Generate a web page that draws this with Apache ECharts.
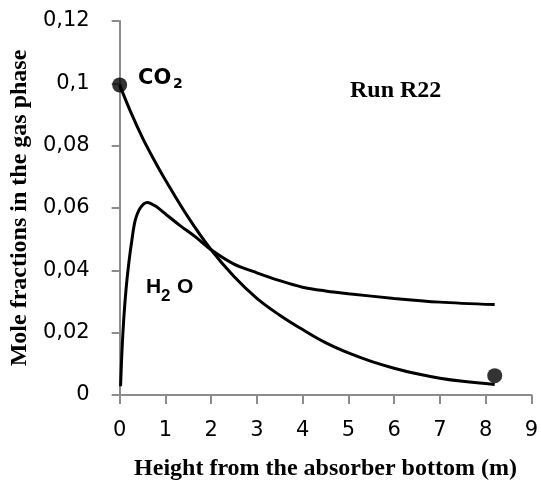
<!DOCTYPE html>
<html>
<head>
<meta charset="utf-8">
<script src="https://cdn.jsdelivr.net/npm/echarts@6/dist/echarts.min.js"></script>
<style>
  html, body { margin: 0; padding: 0; background: #fff; }
  #chart { width: 541px; height: 486px; }
</style>
</head>
<body>
<div id="chart"></div>
<script>
// heights (m) and mole fractions
var co2X = [0, 0.25, 0.5, 0.75, 1.0, 1.5, 2.0, 2.5, 3.0, 3.5, 4.0, 4.5, 5.0, 5.5, 6.0, 6.5, 7.0, 7.5, 8.2];
var co2Y = [0.0995, 0.0905, 0.0825, 0.0755, 0.0690, 0.0570, 0.0466, 0.0380, 0.0310, 0.0256, 0.0210, 0.0168, 0.0135, 0.0108, 0.0086, 0.0068, 0.0054, 0.0044, 0.0034];

var h2oX = [0.02, 0.05, 0.09, 0.14, 0.2, 0.27, 0.34, 0.45, 0.6, 0.8, 1.0, 1.3, 1.65, 2.0, 2.5, 3.0, 3.5, 4.0, 4.5, 5.0, 6.0, 7.0, 8.2];
var h2oY = [0.0028, 0.014, 0.0245, 0.034, 0.0423, 0.050, 0.056, 0.060, 0.0618, 0.0605, 0.0581, 0.0546, 0.0508, 0.0466, 0.0420, 0.0392, 0.0367, 0.0346, 0.0334, 0.0325, 0.0310, 0.0298, 0.0290];

// measured points (black dots)
var dotX = [0, 8.2];
var dotY = [0.0995, 0.0062];

function pairs(xs, ys) {
    var out = [];
    for (var i = 0; i < xs.length; i++) {
        out.push([xs[i], ys[i]]);
    }
    return out;
}

var axisGrey = '#8c8c8c';
var sans = '"DejaVu Sans", sans-serif';
var serif = '"Liberation Serif", "Times New Roman", serif';
var labelFont = '"Liberation Sans", Arial, sans-serif';

var myChart = echarts.init(document.getElementById('chart'));
var option = {
    animation: false,
    backgroundColor: '#fff',
    grid: { left: 117.5, right: 9.5, top: 21, bottom: 85.3 },
    xAxis: {
        type: 'value',
        min: 0, max: 9, interval: 1,
        name: 'Height from the absorber bottom (m)',
        nameLocation: 'middle',
        nameGap: 62,
        nameTextStyle: { fontFamily: serif, fontWeight: 'bold', fontSize: 24, color: '#000' },
        axisLine: { show: true, lineStyle: { color: axisGrey, width: 2 } },
        axisTick: { show: true, length: 9, lineStyle: { color: axisGrey, width: 2 } },
        axisLabel: { fontFamily: sans, fontSize: 21, color: '#000', margin: 25 },
        splitLine: { show: false }
    },
    yAxis: {
        type: 'value',
        min: 0, max: 0.12, interval: 0.02,
        name: 'Mole fractions in the gas phase',
        nameLocation: 'middle',
        nameGap: 77,
        nameTextStyle: { fontFamily: serif, fontWeight: 'bold', fontSize: 24, color: '#000' },
        axisLine: { show: true, lineStyle: { color: axisGrey, width: 2 } },
        axisTick: { show: true, length: 8, lineStyle: { color: axisGrey, width: 2 } },
        axisLabel: {
            fontFamily: sans, fontSize: 21, color: '#000', margin: 30,
            formatter: function (v) {
                return String(Number(v.toFixed(2))).replace('.', ',');
            }
        },
        splitLine: { show: false }
    },
    series: [
        {
            name: 'CO2', type: 'line', smooth: 0.4, symbol: 'none',
            lineStyle: { color: '#000', width: 3 },
            data: pairs(co2X, co2Y)
        },
        {
            name: 'H2O', type: 'line', smooth: 0.3, symbol: 'none',
            lineStyle: { color: '#000', width: 3 },
            data: pairs(h2oX, h2oY)
        },
        {
            name: 'points', type: 'scatter', symbolSize: 15,
            itemStyle: { color: '#000' },
            data: pairs(dotX, dotY)
        }
    ],
    graphic: [
        { type: 'text', left: 138, top: 68, style: { text: 'CO', font: 'bold 21px "DejaVu Sans"', fill: '#000' } },
        { type: 'text', left: 173, top: 77, style: { text: '2', font: 'bold 14px "DejaVu Sans"', fill: '#000' } },
        { type: 'text', left: 146, top: 277, style: { text: 'H', font: 'bold 21px ' + labelFont, fill: '#000' } },
        { type: 'text', left: 161, top: 288, style: { text: '2', font: 'bold 17px ' + labelFont, fill: '#000' } },
        { type: 'text', left: 177, top: 277, style: { text: 'O', font: 'bold 21px ' + labelFont, fill: '#000' } },
        { type: 'text', left: 350, top: 79, style: { text: 'Run R22', font: 'bold 24px "Liberation Serif", "Times New Roman", serif', fill: '#000' } }
    ]
};
myChart.setOption(option);
</script>
</body>
</html>
